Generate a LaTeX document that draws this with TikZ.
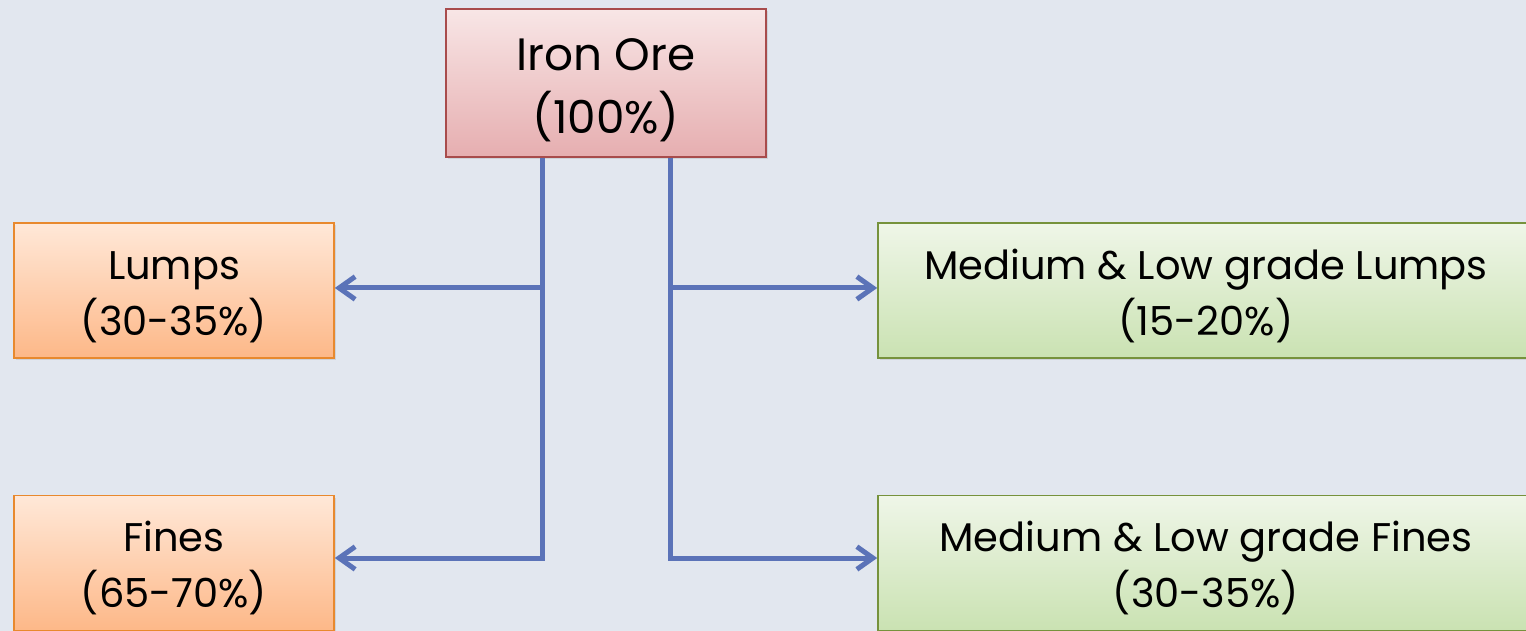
\documentclass[tikz,border=0pt]{standalone}
\usepackage{fontspec}
\setmainfont{Poppins}
\usepackage{xcolor}
\usetikzlibrary{arrows.meta,shadows}
\definecolor{bgcol}{RGB}{226,231,239}
\definecolor{flowcol}{RGB}{91,115,184}
\definecolor{oreline}{RGB}{168,76,76}
\definecolor{oretop}{RGB}{248,230,230}
\definecolor{orebot}{RGB}{230,174,176}
\definecolor{lumpline}{RGB}{232,137,46}
\definecolor{lumptop}{RGB}{255,232,216}
\definecolor{lumpbot}{RGB}{253,184,136}
\definecolor{gradeline}{RGB}{118,146,60}
\definecolor{gradetop}{RGB}{239,246,232}
\definecolor{gradebot}{RGB}{202,226,178}

\begin{document}
\begin{tikzpicture}[x=0.75pt,y=0.75pt,yscale=-1,xscale=1,
  box/.style={draw, line width=1.2pt, align=center, inner sep=0pt,
    font=\fontsize{30}{42}\selectfont, text height=66.75pt, text depth=0pt,
    drop shadow={opacity=0.2, shadow xshift=1.5pt, shadow yshift=-1.5pt}},
  orebox/.style={box, draw=oreline, top color=oretop, bottom color=orebot,
    font=\fontsize{34}{47}\selectfont, text height=75pt,
    minimum width=240pt, minimum height=111pt},
  lumpbox/.style={box, draw=lumpline, top color=lumptop, bottom color=lumpbot,
    minimum width=240pt, minimum height=101.25pt},
  gradebox/.style={box, draw=gradeline, top color=gradetop, bottom color=gradebot,
    minimum width=492pt, minimum height=101.25pt},
  flow/.style={draw=flowcol, line width=3.75pt,
    -{Straight Barb[length=12pt,width=17pt]}}]

\clip (0,0) rectangle (1526,631);
\fill[bgcol] (0,0) rectangle (1526,631);

% boxes
\node[orebox] (ore) at (606,83) {Iron Ore\\(100\%)};
\node[lumpbox] (lumps) at (174,290.5) {Lumps\\(30-35\%)};
\node[lumpbox] (fines) at (174,563) {Fines\\(65-70\%)};
\node[gradebox] (mlumps) at (1206,290.5) {Medium \& Low grade Lumps\\(15-20\%)};
\node[gradebox] (mfines) at (1206,563) {Medium \& Low grade Fines\\(30-35\%)};

% trunks
\coordinate (jl) at (542,0);
\coordinate (jr) at (670,0);
\coordinate (hu) at ([yshift=-1.9pt]lumps.east);
\coordinate (hd) at ([yshift=-3.75pt]fines.east);

% arrows
\draw[flow] (ore.south -| jl) -- (jl |- hd) -- (hd);
\draw[flow] (jl |- hu) -- (hu);
\draw[flow] (ore.south -| jr) -- (jr |- hd) -- (mfines.west |- hd);
\draw[flow] (jr |- hu) -- (mlumps.west |- hu);

\end{tikzpicture}
\end{document}
